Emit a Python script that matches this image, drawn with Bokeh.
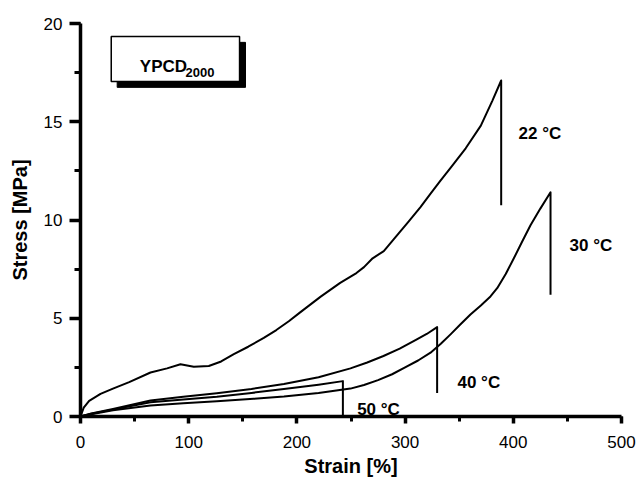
from bokeh.plotting import figure
from bokeh.models import Range1d, SingleIntervalTicker
from bokeh.core.properties import value
from bokeh.embed import file_html
from bokeh.resources import INLINE

# ---- data (strain %, stress MPa) ----
strain_22 = [0, 3, 8, 18.5, 30, 45, 64.7, 80, 92.4, 104.7, 118.6, 130, 141.7, 155, 169.4, 181, 192.5, 203, 222, 240, 255, 262, 270, 280.3, 292.7, 303, 314.2, 323, 332.7, 342, 356, 370, 380.5, 388.8, 388.8]
stress_22 = [0, 0.45, 0.8, 1.15, 1.42, 1.75, 2.24, 2.45, 2.66, 2.53, 2.57, 2.8, 3.17, 3.55, 4.0, 4.4, 4.85, 5.3, 6.1, 6.8, 7.3, 7.6, 8.05, 8.42, 9.23, 9.9, 10.66, 11.3, 12.0, 12.65, 13.65, 14.8, 16.05, 17.1, 10.75]

strain_30 = [0, 10, 30, 64.7, 95, 126, 160, 188, 220, 249.5, 262, 275, 288, 300, 312, 323.5, 333, 342, 351, 360.4, 370, 378.9, 385.1, 393, 400.5, 408, 415.9, 425, 434.4, 434.4]
stress_30 = [0, 0.12, 0.32, 0.56, 0.68, 0.78, 0.9, 1.02, 1.2, 1.42, 1.6, 1.85, 2.15, 2.5, 2.85, 3.25, 3.7, 4.18, 4.68, 5.19, 5.65, 6.11, 6.53, 7.25, 8.05, 8.88, 9.73, 10.58, 11.41, 6.2]

strain_40 = [0, 10, 30, 64.7, 95, 126, 158, 188, 220, 249.5, 265, 280, 295, 310, 320, 329.6, 329.6]
stress_40 = [0, 0.15, 0.38, 0.81, 1.0, 1.18, 1.4, 1.65, 2.0, 2.45, 2.75, 3.08, 3.45, 3.9, 4.2, 4.55, 1.2]

strain_50 = [0, 10, 30, 64.7, 95, 126, 158, 188, 220, 242.5, 242.5]
stress_50 = [0, 0.14, 0.35, 0.72, 0.87, 1.01, 1.2, 1.4, 1.62, 1.8, 0]

label_text = ["22 \u00b0C", "30 \u00b0C", "40 \u00b0C", "50 \u00b0C"]
label_x = [404.8, 452.0, 348.4, 255.7]
label_y = [14.41, 8.69, 1.74, 0.38]

FONT = "Liberation Sans"

p = figure(width=636, height=480, x_range=Range1d(0, 500), y_range=Range1d(0, 20),
           output_backend="svg", toolbar_location=None,
           min_border_left=80, min_border_right=15, min_border_top=23, min_border_bottom=64,
           background_fill_color="white", border_fill_color="white")
p.grid.visible = False
p.outline_line_color = None

p.xaxis.ticker = SingleIntervalTicker(interval=100, num_minor_ticks=2)
p.yaxis.ticker = SingleIntervalTicker(interval=5, num_minor_ticks=2)
for ax in (p.xaxis, p.yaxis):
    ax.axis_line_width = 3.5
    ax.major_tick_line_width = 3.5
    ax.minor_tick_line_width = 3
    ax.major_tick_in = 0
    ax.minor_tick_in = 0
    ax.major_label_text_font = FONT
    ax.major_label_text_font_size = "17px"
    ax.major_label_text_color = "black"
    ax.axis_label_text_font = FONT
    ax.axis_label_text_font_style = "bold"
    ax.axis_label_text_font_size = "20px"
    ax.axis_label_text_color = "black"
p.xaxis.major_tick_out = 7
p.xaxis.minor_tick_out = 5
p.yaxis.major_tick_out = 11
p.yaxis.minor_tick_out = 6
p.xaxis.major_label_standoff = 12
p.yaxis.major_label_standoff = 7
p.xaxis.axis_label_standoff = 4
p.yaxis.axis_label_standoff = 10
p.xaxis.axis_label = "Strain [%]"
p.yaxis.axis_label = "Stress [MPa]"

for xs, ys in ((strain_22, stress_22), (strain_30, stress_30), (strain_40, stress_40), (strain_50, stress_50)):
    p.line(xs, ys, line_color="black", line_width=2, line_join="round")

p.text(x=label_x, y=label_y, text=label_text, text_font=value(FONT), text_font_style="bold",
       text_font_size="17px", text_color="black", text_baseline="alphabetic", text_align="left")

# title box with shadow
p.quad(left=[33.9], right=[152.5], top=[19.04], bottom=[16.75], fill_color="black", line_color="black")
p.quad(left=[28.4], right=[147], top=[19.34], bottom=[17.05], fill_color="white", line_color="black", line_width=1.5)
p.text(x=[54.8], y=[17.8], text=["YPCD"], text_font=value(FONT), text_font_style="bold",
       text_font_size="17px", text_color="black", text_baseline="alphabetic")
p.text(x=[97], y=[17.51], text=["2000"], text_font=value(FONT), text_font_style="bold",
       text_font_size="13px", text_color="black", text_baseline="alphabetic")

open("out.html", "w").write(file_html(p, INLINE))
